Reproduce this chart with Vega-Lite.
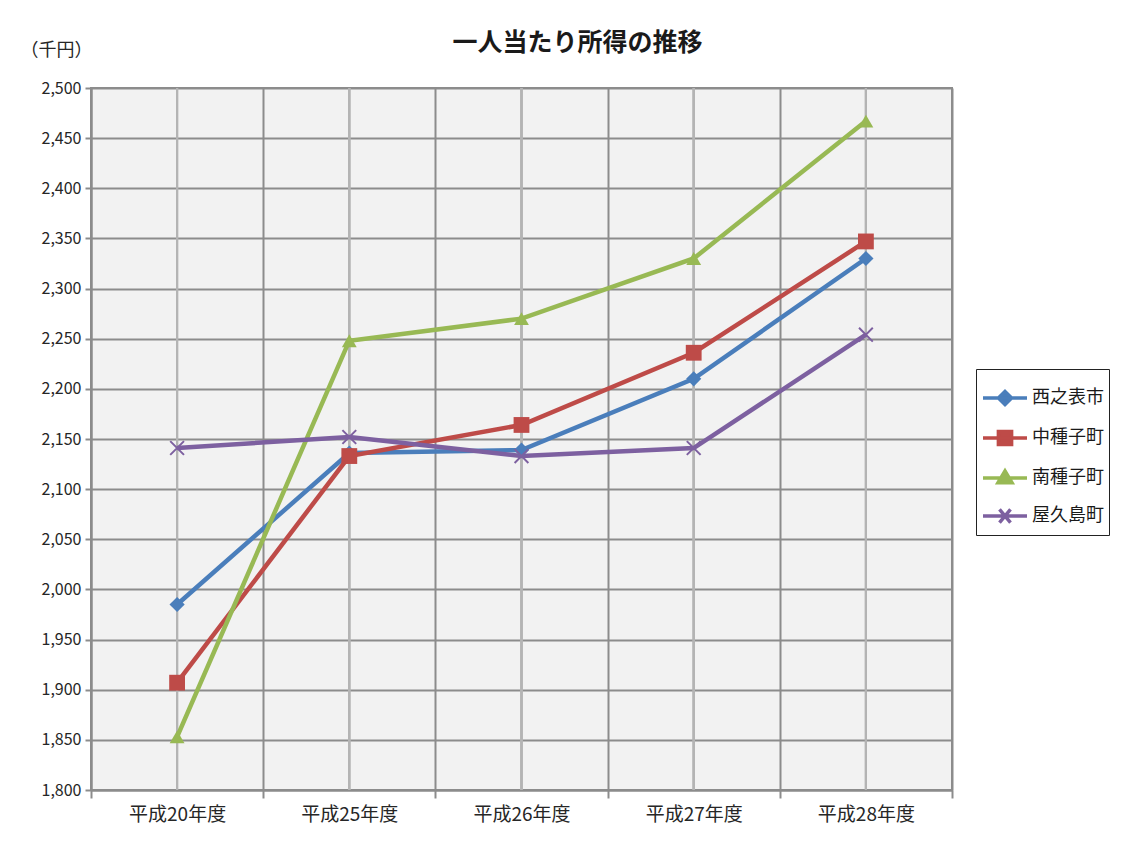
{
  "$schema": "https://vega.github.io/schema/vega-lite/v6.json",
  "width": 861,
  "height": 702,
  "autosize": {"type": "none"},
  "padding": {"left": 91, "top": 88, "right": 184, "bottom": 52},
  "background": "white",
  "title": {"text": "一人当たり所得の推移", "fontSize": 25, "fontWeight": "bold", "font": "Noto Sans CJK JP", "color": "#1a1a1a", "anchor": "middle", "dx": 56, "offset": 20, "dy": 35},
  "config": {
    "font": "Noto Sans CJK JP",
    "view": {"fill": "#f2f2f2", "stroke": "#8c8c8c", "strokeWidth": 2},
    "legend": {
      "orient": "none", "legendX": 885, "legendY": 281,
      "strokeColor": "#222222", "fillColor": "white", "padding": 5,
      "labelFontSize": 18, "labelColor": "#1a1a1a", "labelFont": "Noto Sans CJK JP",
      "symbolSize": 1936, "symbolStrokeWidth": 3.5, "rowPadding": 2, "labelOffset": 3
    }
  },
  "data": {"values": [
    {"year": "平成20年度", "town": "西之表市", "income": 1985},
    {"year": "平成25年度", "town": "西之表市", "income": 2136},
    {"year": "平成26年度", "town": "西之表市", "income": 2139},
    {"year": "平成27年度", "town": "西之表市", "income": 2210},
    {"year": "平成28年度", "town": "西之表市", "income": 2330},
    {"year": "平成20年度", "town": "中種子町", "income": 1907},
    {"year": "平成25年度", "town": "中種子町", "income": 2133},
    {"year": "平成26年度", "town": "中種子町", "income": 2164},
    {"year": "平成27年度", "town": "中種子町", "income": 2236},
    {"year": "平成28年度", "town": "中種子町", "income": 2347},
    {"year": "平成20年度", "town": "南種子町", "income": 1853},
    {"year": "平成25年度", "town": "南種子町", "income": 2248},
    {"year": "平成26年度", "town": "南種子町", "income": 2270},
    {"year": "平成27年度", "town": "南種子町", "income": 2330},
    {"year": "平成28年度", "town": "南種子町", "income": 2467},
    {"year": "平成20年度", "town": "屋久島町", "income": 2141},
    {"year": "平成25年度", "town": "屋久島町", "income": 2152},
    {"year": "平成26年度", "town": "屋久島町", "income": 2133},
    {"year": "平成27年度", "town": "屋久島町", "income": 2141},
    {"year": "平成28年度", "town": "屋久島町", "income": 2254}
  ]},
  "encoding": {
    "x": {"field": "year", "type": "nominal", "sort": null},
    "y": {"field": "income", "type": "quantitative"},
    "color": {"field": "town", "type": "nominal"}
  },
  "layer": [
    {
      "mark": {"type": "rule", "color": "#b4b4b4", "strokeWidth": 2},
      "encoding": {
        "y": null,
        "color": null,
        "x": {
          "field": "year", "type": "nominal", "sort": null,
          "scale": {"type": "band", "paddingInner": 0, "paddingOuter": 0},
          "axis": {
            "title": null, "tickBand": "extent", "grid": true,
            "gridColor": "#8c8c8c", "gridWidth": 2,
            "tickColor": "#8c8c8c", "tickWidth": 2, "tickSize": 8,
            "domainColor": "#8c8c8c", "domainWidth": 2,
            "labelFontSize": 19, "labelColor": "#262626", "labelPadding": 7, "labelAngle": 0
          }
        }
      }
    },
    {
      "mark": {"type": "line", "strokeWidth": 4.5},
      "encoding": {
        "y": {
          "field": "income", "type": "quantitative",
          "scale": {"domain": [1800, 2500], "nice": false, "zero": false},
          "axis": {
            "title": "（千円）", "titleAngle": 0, "titleX": -71, "titleY": -38,
            "titleAlign": "left", "titleBaseline": "middle", "titleFontSize": 18,
            "titleFontWeight": "normal", "titleColor": "#262626",
            "values": [1800, 1850, 1900, 1950, 2000, 2050, 2100, 2150, 2200, 2250, 2300, 2350, 2400, 2450, 2500],
            "format": ",d", "grid": true, "gridColor": "#8c8c8c", "gridWidth": 2,
            "tickColor": "#8c8c8c", "tickWidth": 2, "tickSize": 6,
            "domainColor": "#8c8c8c", "domainWidth": 2,
            "labelFontSize": 16, "labelColor": "#262626", "labelPadding": 4
          }
        },
        "color": {
          "field": "town", "type": "nominal",
          "scale": {"domain": ["西之表市", "中種子町", "南種子町", "屋久島町"], "range": ["#4a7ebb", "#be4b48", "#98b954", "#7d60a0"]},
          "legend": {
            "title": null,
            "encode": {
              "symbols": {
                "update": {
                  "shape": {"signal": "datum.value === '西之表市' ? 'M-1,0H1M0,-0.3L0.3,0L0,0.3L-0.3,0Z' : datum.value === '中種子町' ? 'M-1,0H1M-0.3,-0.3H0.3V0.3H-0.3Z' : datum.value === '南種子町' ? 'M-1,0H1M0,-0.32L0.32,0.22H-0.32Z' : 'M-1,0H1M-0.25,-0.3L0.25,0.3M-0.25,0.3L0.25,-0.3'"},
                  "fill": {"scale": "color", "field": "value"},
                  "stroke": {"scale": "color", "field": "value"},
                  "opacity": {"value": 1}
                }
              }
            }
          }
        }
      }
    },
    {
      "transform": [{"filter": "datum.town === '西之表市'"}],
      "mark": {"type": "point", "shape": "diamond", "filled": true, "size": 230, "opacity": 1}
    },
    {
      "transform": [{"filter": "datum.town === '中種子町'"}],
      "mark": {"type": "point", "shape": "square", "filled": true, "size": 250, "opacity": 1}
    },
    {
      "transform": [{"filter": "datum.town === '南種子町'"}],
      "mark": {"type": "point", "shape": "triangle-up", "filled": true, "size": 220, "opacity": 1}
    },
    {
      "transform": [{"filter": "datum.town === '屋久島町'"}],
      "mark": {"type": "point", "shape": "M-1,-1L1,1M-1,1L1,-1", "filled": false, "size": 190, "strokeWidth": 2, "opacity": 1}
    }
  ]
}
